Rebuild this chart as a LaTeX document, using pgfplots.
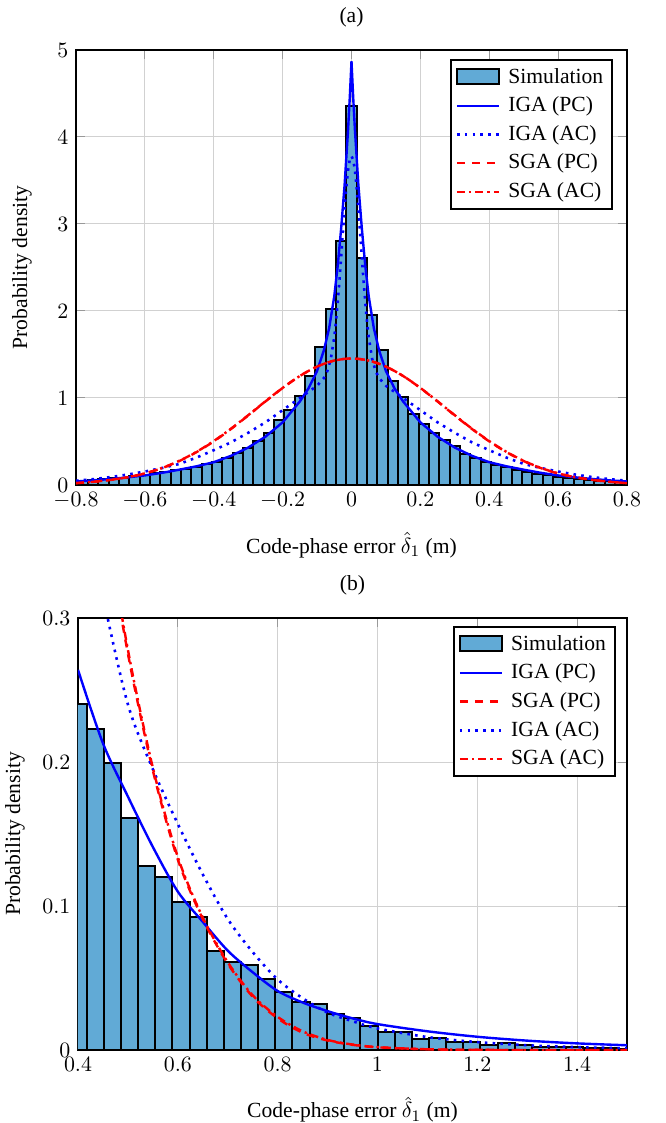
\documentclass[border=0pt]{standalone}
\usepackage{fontspec}
\setmainfont{Liberation Serif}
\usepackage{pgfplots}
\pgfplotsset{compat=1.18}
\definecolor{barblue}{RGB}{97,170,214}
\pgfplotsset{
  myax/.style={
    scale only axis,
    axis line style={line width=1pt},
    grid=major,
    grid style={line width=0.5pt, color=black!18},
    major tick style={black!40, line width=0.5pt},
    tick align=inside,
    legend cell align=left,
    legend style={draw=black, line width=1pt, row sep=1.2pt, column sep=2pt, inner xsep=2.5pt, inner ysep=2pt},
    title style={at={(0.5,1)}, anchor=center, yshift=10.5pt},
    xlabel style={at={(axis description cs:0.5,-0.138)}, anchor=center},
  },
  linelegend/.style={legend image code/.code={\draw[##1] (0cm,0cm) -- (0.74cm,0cm);}},
  simbar/.style={ybar interval, fill=barblue, draw=black, line width=1pt,
    legend image code/.code={\draw[##1] (0cm,-0.12cm) rectangle (0.74cm,0.14cm);}},
  igapc/.style={blue, line width=1.2pt, linelegend},
  igaac/.style={blue, line width=1.3pt, dash pattern=on 1.3pt off 2.6pt, linelegend},
  sgapc/.style={red, line width=1.2pt, dash pattern=on 4pt off 3.5pt, linelegend},
  sgaac/.style={red, line width=1.2pt, dash pattern=on 4pt off 2pt on 1.2pt off 2pt, linelegend},
}
\begin{document}
\fontsize{10.8}{13}\selectfont
\begin{tikzpicture}
\useasboundingbox (-38pt,-319pt) rectangle (294.5pt,242.5pt);
% ---------------- (a) ----------------
\begin{axis}[myax,
  width=275.5pt, height=217.5pt,
  xmin=-0.8, xmax=0.8, ymin=0, ymax=5,
  xtick={-0.8,-0.6,-0.4,-0.2,0,0.2,0.4,0.6,0.8},
  ytick={0,1,2,3,4,5},
  title={(a)},
  xlabel={Code-phase error $\hat{\delta}_1$ (m)},
  ylabel={Probability density},
  ylabel style={at={(axis description cs:-0.098,0.5)}, anchor=center, rotate=0},
  legend style={at={(0.975,0.979)}, anchor=north east},
]
\addplot[simbar] coordinates {
(-0.825,0.04) (-0.795,0.045) (-0.765,0.055) (-0.735,0.065) (-0.705,0.075)
(-0.675,0.085) (-0.645,0.10) (-0.615,0.12) (-0.585,0.14) (-0.555,0.155)
(-0.525,0.17) (-0.495,0.185) (-0.465,0.205) (-0.435,0.24) (-0.405,0.27)
(-0.375,0.315) (-0.345,0.37) (-0.315,0.42) (-0.285,0.50) (-0.255,0.60)
(-0.225,0.745) (-0.195,0.86) (-0.165,1.025) (-0.135,1.255) (-0.105,1.59)
(-0.075,2.02) (-0.045,2.80) (-0.015,4.353) (0.015,2.61) (0.045,1.95)
(0.075,1.555) (0.105,1.19) (0.135,1.01) (0.165,0.82) (0.195,0.70)
(0.225,0.595) (0.255,0.515) (0.285,0.45) (0.315,0.36) (0.345,0.31)
(0.375,0.27) (0.405,0.23) (0.435,0.21) (0.465,0.17) (0.495,0.15)
(0.525,0.13) (0.555,0.11) (0.585,0.095) (0.615,0.085) (0.645,0.07)
(0.675,0.06) (0.705,0.05) (0.735,0.045) (0.765,0.04) (0.795,0.03)
(0.825,0)
};
\addlegendentry{Simulation}
\addplot[igapc] coordinates {
(-0.8,0.041) (-0.75,0.053) (-0.7,0.069) (-0.65,0.088) (-0.6,0.11) (-0.55,0.14)
(-0.5,0.176) (-0.45,0.215) (-0.4,0.262) (-0.35,0.335) (-0.3,0.43) (-0.25,0.555)
(-0.2,0.72) (-0.15,0.96) (-0.125,1.11) (-0.1,1.31) (-0.08,1.55) (-0.065,1.80)
(-0.05,2.17) (-0.04,2.52) (-0.03,2.95) (-0.02,3.45) (-0.01,4.08) (-0.005,4.45)
(0,4.87)
(0.005,4.45) (0.01,4.08) (0.02,3.45) (0.03,2.95) (0.04,2.52) (0.05,2.17)
(0.065,1.80) (0.08,1.55) (0.1,1.31) (0.125,1.11) (0.15,0.96) (0.2,0.72)
(0.25,0.555) (0.3,0.43) (0.35,0.335) (0.4,0.262) (0.45,0.215) (0.5,0.176)
(0.55,0.14) (0.6,0.11) (0.65,0.088) (0.7,0.069) (0.75,0.053) (0.8,0.041)
};
\addlegendentry{IGA (PC)}
\addplot[igaac] coordinates {
(-0.8,0.049) (-0.75,0.067) (-0.7,0.091) (-0.65,0.12) (-0.6,0.155) (-0.55,0.195)
(-0.5,0.242) (-0.45,0.315) (-0.4,0.40) (-0.35,0.49) (-0.3,0.60) (-0.25,0.72)
(-0.2,0.86) (-0.15,1.0) (-0.125,1.07) (-0.1,1.14) (-0.08,1.23) (-0.07,1.31)
(-0.06,1.45) (-0.05,1.7) (-0.045,1.88) (-0.04,2.1) (-0.035,2.35) (-0.03,2.62)
(-0.025,2.9) (-0.02,3.18) (-0.015,3.42) (-0.01,3.62) (-0.005,3.74) (0,3.78)
(0.005,3.74) (0.01,3.62) (0.015,3.42) (0.02,3.18) (0.025,2.9) (0.03,2.62)
(0.035,2.35) (0.04,2.1) (0.045,1.88) (0.05,1.7) (0.06,1.45) (0.07,1.31)
(0.08,1.23) (0.1,1.14) (0.125,1.07) (0.15,1.0) (0.2,0.86) (0.25,0.72)
(0.3,0.60) (0.35,0.49) (0.4,0.40) (0.45,0.315) (0.5,0.242) (0.55,0.195)
(0.6,0.155) (0.65,0.12) (0.7,0.091) (0.75,0.067) (0.8,0.049)
};
\addlegendentry{IGA (AC)}
\addplot[sgapc, smooth] coordinates {
(-0.8,0.021) (-0.75,0.036) (-0.7,0.058) (-0.65,0.089) (-0.6,0.1323) (-0.55,0.1941)
(-0.5,0.2753) (-0.45,0.3777) (-0.4,0.5013) (-0.35,0.6434) (-0.3,0.799) (-0.25,0.9596)
(-0.2,1.1147) (-0.15,1.2525) (-0.1,1.361) (-0.05,1.431) (0,1.455)
(0.05,1.431) (0.1,1.361) (0.15,1.2525) (0.2,1.1147) (0.25,0.9596) (0.3,0.799)
(0.35,0.6434) (0.4,0.5013) (0.45,0.3777) (0.5,0.2753) (0.55,0.1941) (0.6,0.1323)
(0.65,0.089) (0.7,0.058) (0.75,0.036) (0.8,0.021)
};
\addlegendentry{SGA (PC)}
\addplot[sgaac, smooth] coordinates {
(-0.8,0.022) (-0.75,0.037) (-0.7,0.059) (-0.65,0.090) (-0.6,0.134) (-0.55,0.196)
(-0.5,0.278) (-0.45,0.381) (-0.4,0.505) (-0.35,0.647) (-0.3,0.802) (-0.25,0.962)
(-0.2,1.116) (-0.15,1.253) (-0.1,1.361) (-0.05,1.430) (0,1.454)
(0.05,1.430) (0.1,1.361) (0.15,1.253) (0.2,1.116) (0.25,0.962) (0.3,0.802)
(0.35,0.647) (0.4,0.505) (0.45,0.381) (0.5,0.278) (0.55,0.196) (0.6,0.134)
(0.65,0.090) (0.7,0.059) (0.75,0.037) (0.8,0.022)
};
\addlegendentry{SGA (AC)}
\end{axis}
% ---------------- (b) ----------------
\begin{axis}[myax,
  at={(1pt,-282.5pt)}, anchor=south west,
  width=274.5pt, height=216pt,
  xmin=0.4, xmax=1.5, ymin=0, ymax=0.3,
  xtick={0.4,0.6,0.8,1,1.2,1.4},
  ytick={0,0.1,0.2,0.3},
  title={(b)},
  xlabel={Code-phase error $\hat{\delta}_1$ (m)},
  ylabel={Probability density},
  ylabel style={at={(axis description cs:-0.115,0.5)}, anchor=center, rotate=0},
  legend style={at={(0.98,0.981)}, anchor=north east},
]
\addplot[simbar] coordinates {
(0.384,0.240) (0.418,0.223) (0.452,0.1995) (0.486,0.161) (0.521,0.128)
(0.555,0.120) (0.589,0.103) (0.624,0.0925) (0.658,0.069) (0.692,0.0614)
(0.726,0.0587) (0.761,0.0495) (0.795,0.040) (0.829,0.0334) (0.864,0.0317)
(0.898,0.0253) (0.932,0.0225) (0.966,0.0168) (1.001,0.0127) (1.035,0.0122)
(1.069,0.0076) (1.103,0.0085) (1.138,0.0053) (1.172,0.0058) (1.206,0.0035)
(1.241,0.0046) (1.275,0.0035) (1.309,0.0023) (1.343,0.0018) (1.378,0.0018)
(1.412,0.0016) (1.446,0.0012) (1.480,0.001) (1.515,0)
};
\addlegendentry{Simulation}
\addplot[igapc, smooth] coordinates {
(0.4,0.264) (0.45,0.213) (0.5,0.176) (0.55,0.141) (0.6,0.11) (0.65,0.089)
(0.7,0.069) (0.75,0.054) (0.8,0.041) (0.85,0.033) (0.9,0.027) (0.95,0.022)
(1.0,0.018) (1.1,0.013) (1.2,0.0092) (1.3,0.0065) (1.4,0.0046) (1.5,0.0033)
};
\addlegendentry{IGA (PC)}
\addplot[sgapc, smooth] coordinates {
(0.4,0.5013) (0.45,0.3777) (0.5,0.2753) (0.55,0.1941) (0.6,0.1323) (0.65,0.091)
(0.7,0.060) (0.75,0.037) (0.8,0.022) (0.85,0.012) (0.9,0.0066) (0.95,0.0036)
(1.0,0.0019) (1.1,0.0005) (1.2,0.0001) (1.3,0) (1.5,0)
};
\addlegendentry{SGA (PC)}
\addplot[igaac, smooth] coordinates {
(0.4,0.40) (0.45,0.315) (0.5,0.24) (0.55,0.195) (0.6,0.157) (0.65,0.122)
(0.7,0.091) (0.75,0.068) (0.8,0.049) (0.85,0.036) (0.9,0.026) (0.95,0.02)
(1.0,0.015) (1.1,0.009) (1.2,0.0055) (1.3,0.0033) (1.4,0.002) (1.5,0.0012)
};
\addlegendentry{IGA (AC)}
\addplot[sgaac, smooth] coordinates {
(0.4,0.505) (0.45,0.381) (0.5,0.278) (0.55,0.196) (0.6,0.134) (0.65,0.092)
(0.7,0.061) (0.75,0.038) (0.8,0.023) (0.85,0.013) (0.9,0.007) (0.95,0.0038)
(1.0,0.002) (1.1,0.0005) (1.2,0.0001) (1.3,0) (1.5,0)
};
\addlegendentry{SGA (AC)}
\end{axis}
\end{tikzpicture}
\end{document}
